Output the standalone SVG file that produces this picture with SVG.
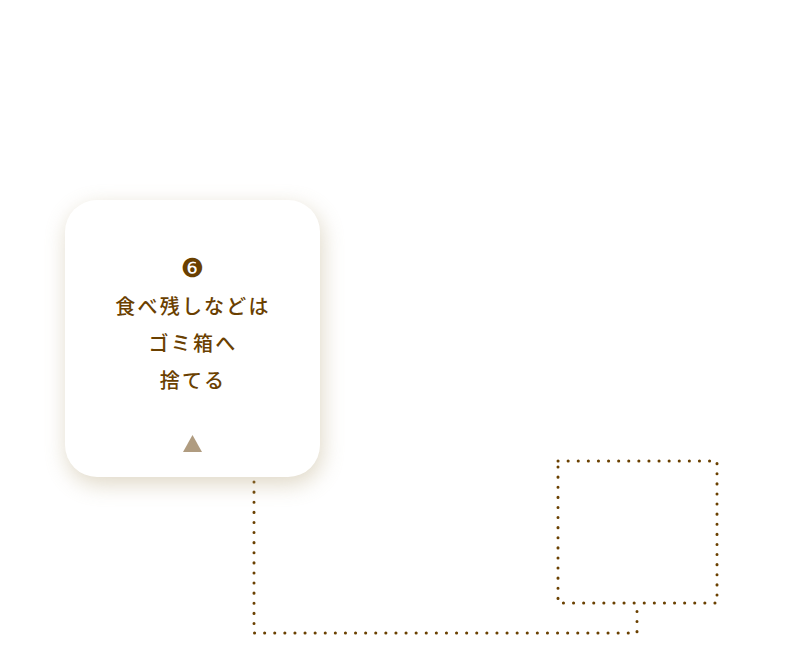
<svg xmlns="http://www.w3.org/2000/svg" width="801" height="653" viewBox="0 0 801 653">
<style>
.t{font-family:"Noto Sans CJK JP","Noto Sans",sans-serif;font-size:20px;font-weight:500;fill:#6a4000;text-anchor:middle;letter-spacing:2.2px}
.dot{fill:none;stroke:#6a4000;stroke-width:3;stroke-linecap:round;stroke-dasharray:0.1 10}
</style>
<defs>
<filter id="blur" x="-30%" y="-30%" width="160%" height="160%"><feGaussianBlur stdDeviation="11"/></filter>
</defs>
<rect width="801" height="653" fill="#ffffff"/>
<g id="connectors">
<path class="dot" d="M254 482 V633 H637 V603"/>
</g>
<g id="box">
<path class="dot" d="M558 461 H717 V603 H558 Z"/>
</g>
<g id="card">
<rect x="67" y="207" width="255" height="277" rx="32" fill="#b8a780" opacity="0.45" filter="url(#blur)"/>
<rect x="65" y="200" width="255" height="277" rx="32" fill="#ffffff"/>
<text x="192.5" y="277" font-family="DejaVu Sans,sans-serif" font-size="26" fill="#6a4000" text-anchor="middle">❻</text>
<text class="t" x="193" y="314">食べ残しなどは</text>
<text class="t" x="193" y="351">ゴミ箱へ</text>
<text class="t" x="193" y="388">捨てる</text>
<polygon points="183,452 202,452 192.5,435" fill="#b09c80"/>
</g>
</svg>
